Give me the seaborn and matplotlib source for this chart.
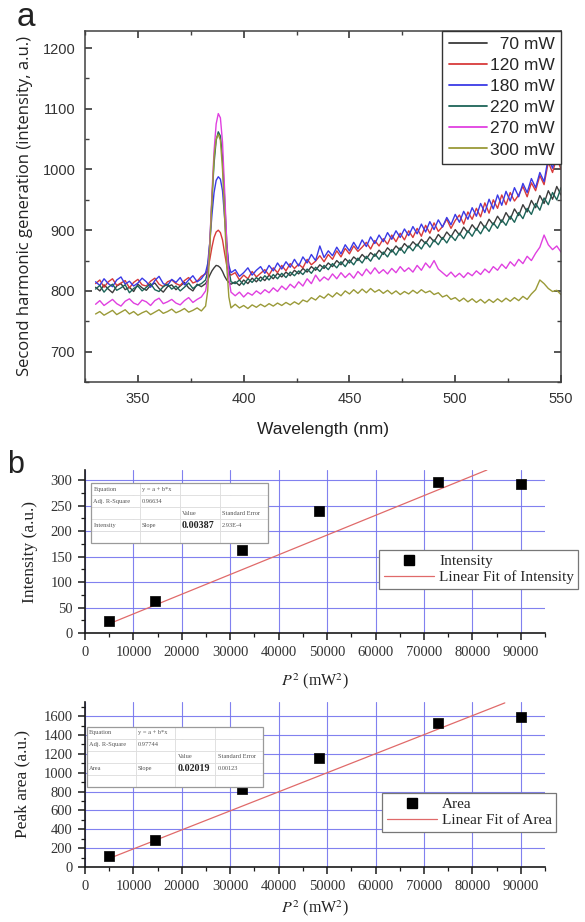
import numpy as np
import pandas as pd
import matplotlib
matplotlib.use("Agg")
import matplotlib.pyplot as plt
import seaborn as sns
from matplotlib.lines import Line2D
from matplotlib.ticker import MultipleLocator
from matplotlib.patches import Rectangle

# ---------------- data: panel a (SHG spectra) ----------------
wavelength = [330, 332, 334, 336, 338, 340, 342, 344, 346, 348, 350, 352, 354,
              356, 358, 360, 362, 364, 366, 368, 370, 372, 374, 376, 378, 380,
              382, 383, 384, 385, 386, 387, 388, 389, 390, 391, 392, 393, 394,
              396, 398, 400, 402, 404, 406, 408, 410, 412, 414,
              416, 418, 420, 422, 424, 426, 428, 430, 432, 434,
              436, 438, 440, 442, 444, 446, 448, 450, 452, 454,
              456, 458, 460, 462, 464, 466, 468, 470, 472, 474,
              476, 478, 480, 482, 484, 486, 488, 490, 492, 494,
              496, 498, 500, 502, 504, 506, 508, 510, 512, 514,
              516, 518, 520, 522, 524, 526, 528, 530, 532, 534,
              536, 538, 540, 542, 544, 546, 548, 550]

sig_70 = [806, 800, 810, 803, 797, 808, 812, 802, 806, 799, 811, 805, 801,
          809, 813, 804, 798, 807, 810, 802, 808, 814, 805, 800, 811, 807,
          812, 818, 826, 833, 838, 842, 841, 838, 832, 824, 818, 814, 811,
          815, 809, 818, 812, 821, 815, 823, 817, 826, 820,
          829, 823, 831, 825, 834, 828, 837, 831, 840, 834,
          843, 837, 846, 840, 850, 843, 853, 846, 856, 850,
          860, 853, 863, 857, 867, 860, 871, 864, 874, 867,
          878, 871, 881, 874, 885, 878, 889, 881, 893, 885,
          897, 889, 901, 892, 905, 896, 909, 900, 914, 904,
          918, 909, 923, 913, 929, 918, 935, 924, 942, 930,
          949, 937, 957, 944, 965, 951, 972, 958]

sig_120 = [812, 818, 806, 815, 820, 809, 813, 817, 805, 814, 819, 810, 808,
           816, 821, 811, 807, 815, 818, 812, 809, 817, 822, 813, 816, 824,
           828, 835, 852, 872, 888, 897, 900, 896, 884, 862, 842, 830, 826,
           830, 818, 826, 820, 832, 823, 829, 835, 826, 838,
           830, 842, 833, 845, 837, 844, 838, 852, 843, 849,
           858, 848, 860, 852, 866, 856, 870, 861, 874, 865,
           872, 880, 869, 883, 874, 886, 877, 892, 881, 895,
           884, 899, 888, 903, 890, 908, 895, 912, 898, 906,
           918, 903, 916, 925, 910, 930, 918, 936, 922, 945,
           928, 950, 936, 958, 942, 962, 948, 958, 972, 955,
           978, 965, 990, 975, 1012, 995, 1020, 1000]

sig_180 = [815, 809, 820, 812, 807, 818, 823, 811, 816, 808, 813, 821, 815,
           806, 817, 824, 812, 809, 819, 814, 822, 810, 818, 825, 815, 820,
           830, 845, 880, 925, 962, 982, 988, 984, 965, 920, 872, 842, 830,
           835, 824, 830, 838, 826, 834, 840, 829, 842, 833,
           846, 836, 848, 839, 852, 841, 856, 846, 860, 850,
           874, 855, 866, 858, 872, 861, 876, 866, 880, 869,
           884, 873, 889, 878, 892, 881, 896, 885, 899, 888,
           902, 891, 906, 894, 910, 897, 914, 901, 917, 905,
           921, 909, 926, 913, 931, 918, 937, 923, 944, 929,
           951, 935, 958, 941, 964, 948, 970, 955, 977, 962,
           985, 970, 995, 980, 1020, 1002, 1030, 1012]

sig_220 = [803, 809, 798, 806, 811, 801, 805, 810, 797, 804, 808, 800, 806,
           812, 802, 799, 807, 811, 803, 808, 800, 806, 813, 804, 809, 812,
           818, 832, 880, 950, 1010, 1048, 1062, 1055, 1020, 950, 880, 835, 815,
           812, 818, 810, 820, 814, 822, 816, 825, 818, 827,
           820, 829, 822, 831, 825, 833, 827, 836, 829, 839,
           832, 842, 835, 845, 838, 848, 840, 851, 843, 854,
           846, 857, 849, 861, 852, 864, 856, 868, 859, 871,
           862, 874, 866, 877, 869, 881, 872, 884, 876, 888,
           879, 891, 883, 895, 886, 899, 890, 903, 894, 907,
           898, 912, 903, 917, 908, 923, 913, 929, 919, 936,
           926, 944, 933, 953, 942, 962, 950, 970]

sig_270 = [778, 784, 776, 781, 786, 779, 775, 783, 787, 780, 777, 785, 782,
           776, 784, 788, 779, 782, 786, 780, 777, 784, 789, 781, 786, 790,
           800, 820, 880, 960, 1030, 1075, 1092, 1085, 1045, 965, 880, 820, 798,
           792, 798, 790, 797, 793, 800, 795, 802, 797, 805,
           799, 808, 802, 811, 805, 815, 808, 820, 812, 826,
           816, 823, 818, 828, 820, 830, 822, 829, 821, 832,
           825, 836, 828, 838, 829, 835, 828, 837, 830, 840,
           832, 838, 831, 842, 834, 846, 838, 850, 836, 830,
           824, 831, 823, 829, 822, 830, 825, 833, 827, 836,
           830, 840, 834, 844, 837, 848, 841, 852, 845, 857,
           850, 862, 872, 892, 876, 868, 874, 864]

sig_300 = [762, 766, 760, 764, 768, 761, 765, 769, 762, 766, 760, 764, 767,
           761, 765, 769, 763, 766, 770, 764, 767, 771, 765, 768, 772, 767,
           775, 800, 870, 950, 1020, 1050, 1058, 1048, 1000, 920, 840, 790, 772,
           778, 772, 776, 771, 777, 773, 778, 774, 779, 775,
           780, 776, 781, 777, 782, 778, 785, 782, 789, 785,
           792, 788, 795, 790, 797, 792, 800, 795, 802, 796,
           803, 797, 804, 798, 802, 796, 801, 795, 800, 794,
           799, 795, 801, 796, 802, 797, 800, 794, 797, 790,
           793, 786, 789, 783, 788, 782, 787, 781, 786, 780,
           786, 781, 787, 782, 788, 783, 789, 784, 791, 786,
           795, 802, 818, 812, 804, 799, 801, 794]

power_labels = ["70 mW", "120 mW", "180 mW", "220 mW", "270 mW", "300 mW"]
power_colors = ["#3c3c3c", "#d83a3a", "#3a3ae6", "#1c6458", "#e040e0", "#9a9a38"]

# ---------------- data: panel b ----------------
power_sq = [4900, 14400, 32400, 48400, 72900, 90000]
peak_intensity = [23, 62, 162, 240, 296, 293]
peak_area = [120, 285, 830, 1160, 1525, 1590]
intensity_fit_coef = [-1.2, 0.00387]     # intercept, slope
intensity_fit_range = [4900, 83000]
area_fit_coef = [-10.0, 0.02019]
area_fit_range = [4900, 86700]

table_intensity = [["Equation", "y = a + b*x", "", ""],
                   ["Adj. R-Square", "0.96634", "", ""],
                   ["", "", "Value", "Standard Error"],
                   ["Intensity", "Slope", "0.00387", "2.93E-4"],
                   ["", "", "", ""]]
table_area = [["Equation", "y = a + b*x", "", ""],
              ["Adj. R-Square", "0.97744", "", ""],
              ["", "", "Value", "Standard Error"],
              ["Area", "Slope", "0.02019", "0.00123"],
              ["", "", "", ""]]

# ---------------- style ----------------
sns.set_theme(style="ticks")
plt.rcParams["font.family"] = ["Liberation Sans", "DejaVu Sans"]
plt.rcParams["mathtext.fontset"] = "stix"

W, H = 585, 922
fig = plt.figure(figsize=(W / 100, H / 100), dpi=100)

def axes_px(l, t, r, b):
    return fig.add_axes([l / W, 1 - b / H, (r - l) / W, (b - t) / H])

# ================= panel a =================
axa = axes_px(85, 31, 561, 382)
series = [sig_70, sig_120, sig_180, sig_220, sig_270, sig_300]
frames = []
for lab, vals in zip(power_labels, series):
    frames.append(pd.DataFrame({"wl": wavelength, "val": vals, "power": lab}))
dfa = pd.concat(frames, ignore_index=True)
sns.lineplot(data=dfa, x="wl", y="val", hue="power", hue_order=power_labels,
             palette=power_colors, estimator=None, sort=False, lw=1.0,
             ax=axa, legend=False)
axa.set_xlim(325, 550)
axa.set_ylim(650, 1228)
axa.xaxis.set_major_locator(MultipleLocator(50))
axa.xaxis.set_minor_locator(MultipleLocator(25))
axa.yaxis.set_minor_locator(MultipleLocator(50))
axa.set_yticks([700, 800, 900, 1000, 1100, 1200])
axa.tick_params(which="both", direction="in", top=True, right=True,
                color="#404040", labelsize=10.5, labelcolor="#333333", pad=7)
axa.tick_params(which="major", length=5)
axa.tick_params(which="minor", length=3)
for s in axa.spines.values():
    s.set_color("#404040")
    s.set_linewidth(1.1)
axa.set_xlabel("Wavelength (nm)", fontsize=12.5, color="#222222", labelpad=12)
axa.set_ylabel("Second harmonic generation (intensity, a.u.)",
               fontsize=12, color="#222222", labelpad=7,
               family=["Open Sans", "DejaVu Sans"])
handles = [Line2D([], [], color=c, lw=1.3) for c in power_colors]
labs = ["  " + l if len(l) < 6 else l for l in power_labels]
lega = axa.legend(handles, labs, loc="upper right", bbox_to_anchor=(1, 1),
                  borderaxespad=0, fontsize=12.5, handlelength=2.2,
                  handletextpad=0.2, labelspacing=0.34, borderpad=0.35,
                  fancybox=False, framealpha=1, edgecolor="#333333")
lega.get_frame().set_linewidth(1.0)
fig.text(26 / W, 1 - 18 / H, "a", fontsize=24, ha="center", va="center",
         color="#222222")

# ================= panel b =================
grid_color = "#7373ee"
fit_color = "#e06a6a"
serif = ["Liberation Serif", "DejaVu Serif"]

def fit_table(ax, rows, bbox):
    tbl = ax.table(cellText=rows, bbox=bbox,
                   colWidths=[0.277, 0.226, 0.226, 0.271], cellLoc="left")
    tbl.auto_set_font_size(False)
    tbl.set_fontsize(4.6)
    for (r, c), cell in tbl.get_celld().items():
        cell.set_edgecolor("#dadada")
        cell.set_linewidth(0.5)
        cell.set_facecolor("white")
        t = cell.get_text()
        t.set_color("#555555")
        t.set_fontfamily(serif)
        cell.PAD = 0.05
        if (r, c) in [(1, 1), (3, 3), (2, 3)]:
            cell._loc = "right"
        if (r, c) == (2, 2):
            cell._loc = "center"
        if (r, c) == (3, 2):
            cell._loc = "center"
            t.set_fontsize(7.2)
            t.set_fontweight("bold")
            t.set_color("#222222")
    tbl.set_zorder(6)
    ax.add_patch(Rectangle((bbox[0], bbox[1]), bbox[2], bbox[3],
                           transform=ax.transAxes, fill=False,
                           edgecolor="#9a9a9a", lw=0.9, zorder=7))

def panel_b(ax, yvals, ylabel, label, fit_coef, fit_range, ylim, ymajor,
            yminor, table_rows, table_bbox, leg_anchor, xlabelpad):
    sns.scatterplot(x=power_sq, y=yvals, marker="s", s=42, color="black",
                    edgecolor="black", linewidth=0.5, ax=ax, zorder=4,
                    legend=False)
    fx = np.array(fit_range, dtype=float)
    fy = fit_coef[0] + fit_coef[1] * fx
    sns.lineplot(x=fx, y=fy, color=fit_color, lw=0.9, ax=ax, zorder=3,
                 legend=False)
    ax.set_xlim(0, 95000)
    ax.set_ylim(*ylim)
    ax.xaxis.set_major_locator(MultipleLocator(10000))
    ax.xaxis.set_minor_locator(MultipleLocator(5000))
    ax.yaxis.set_major_locator(MultipleLocator(ymajor))
    ax.yaxis.set_minor_locator(MultipleLocator(yminor))
    ax.ticklabel_format(style="plain", useOffset=False)
    ax.grid(True, which="major", color=grid_color, lw=0.8, alpha=0.9)
    ax.set_axisbelow(True)
    sns.despine(ax=ax)
    for s in ["left", "bottom"]:
        ax.spines[s].set_color("#1a1a1a")
        ax.spines[s].set_linewidth(1.2)
    ax.tick_params(which="both", direction="out", color="#1a1a1a",
                   labelsize=10.5, labelcolor="#333333", pad=4)
    ax.tick_params(which="major", length=5, width=1.1)
    ax.tick_params(which="minor", length=3, width=0.9)
    for t in ax.get_xticklabels() + ax.get_yticklabels():
        t.set_fontfamily(serif)
    ax.set_xlabel(r"$\mathit{P}^2$ (mW$^2$)", fontsize=11.5, family=serif,
                  color="#222222", labelpad=xlabelpad)
    ax.set_ylabel(ylabel, fontsize=12.5, family=serif, color="#222222",
                  labelpad=9)
    fit_table(ax, table_rows, table_bbox)
    h = [Line2D([], [], marker="s", ls="none", color="black", markersize=6.5),
         Line2D([], [], color=fit_color, lw=0.9)]
    leg = ax.legend(h, [label, "Linear Fit of " + label], loc="upper left",
                    bbox_to_anchor=leg_anchor, borderaxespad=0,
                    prop={"family": serif, "size": 11}, handlelength=3.3,
                    handletextpad=0.3, labelspacing=0.15, borderpad=0.3,
                    fancybox=False, framealpha=1, edgecolor="#777777")
    leg.get_frame().set_linewidth(0.9)
    leg.set_zorder(8)

axb1 = axes_px(85, 470, 545, 633)
panel_b(axb1, peak_intensity, "Intensity (a.u.)", "Intensity",
        intensity_fit_coef, intensity_fit_range, (0, 320), 50, 25,
        table_intensity, [0.013, 0.552, 0.384, 0.368], (0.64, 0.509), 9)

axb2 = axes_px(85, 702, 545, 867)
panel_b(axb2, peak_area, "Peak area (a.u.)", "Area",
        area_fit_coef, area_fit_range, (0, 1750), 200, 100,
        table_area, [0.004, 0.485, 0.383, 0.364], (0.646, 0.448), 4)

fig.text(16 / W, 1 - 465 / H, "b", fontsize=22, ha="center", va="center",
         color="#222222")

fig.savefig("out.png", dpi=100)
